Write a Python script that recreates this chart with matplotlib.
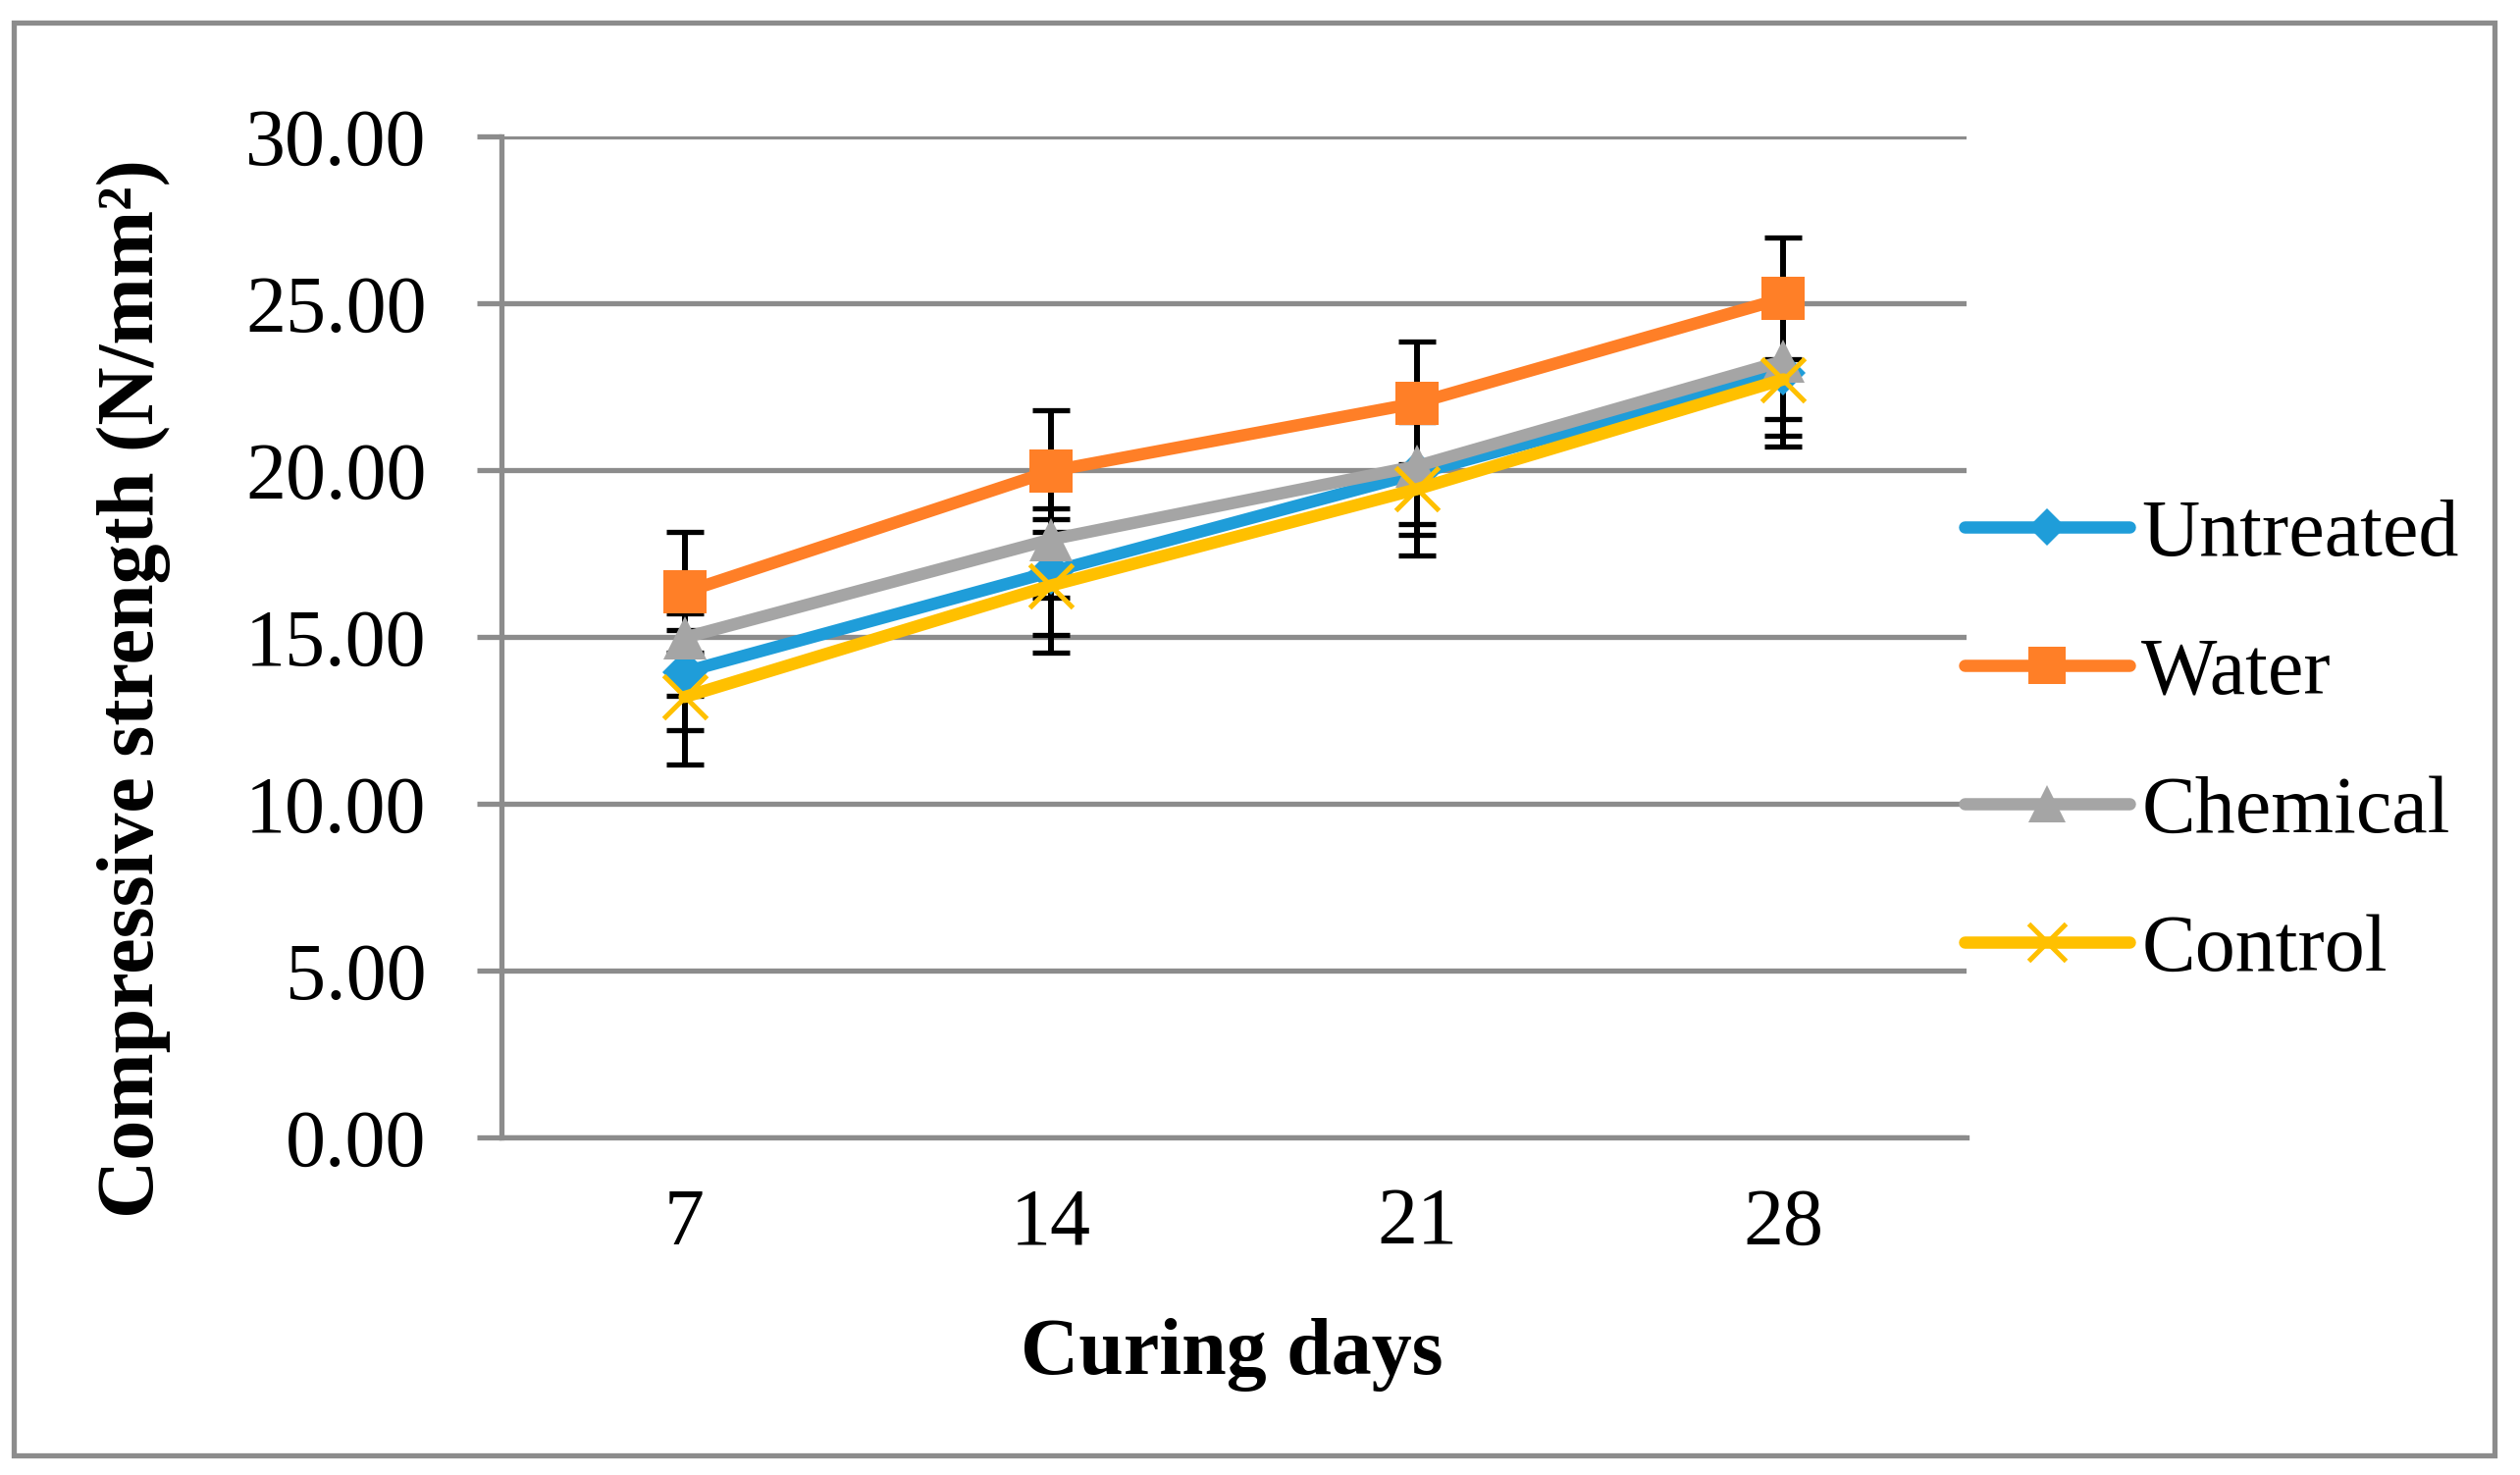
import numpy as np
import matplotlib
matplotlib.use('Agg')
import matplotlib.pyplot as plt
from matplotlib.patches import Rectangle

plt.rcParams['font.family'] = ['Liberation Serif', 'DejaVu Serif']

days = ['7', '14', '21', '28']
untreated = [13.95, 16.95, 19.90, 22.90]
untreated_err = [1.75, 1.90, 1.85, 1.88]
water = [16.34, 19.97, 22.01, 25.15]
water_err = [1.82, 1.81, 1.83, 1.83]
chemical = [14.98, 17.92, 20.12, 23.27]
chemical_err = [1.75, 1.75, 1.75, 1.75]
control = [13.20, 16.54, 19.43, 22.72]
control_err = [2.02, 2.00, 2.00, 2.00]

grid_gray = '#8C8C8C'
W, H = 2568, 1503
fig = plt.figure(figsize=(W / 100, H / 100), dpi=100)
ax = fig.add_axes([511 / W, 1 - 1159 / H, (2004 - 511) / W, (1159 - 139) / H])

x = np.arange(1, len(days) + 1)
series = [
    ('Untreated', untreated, untreated_err, '#1F9DD9', 'D', 23),
    ('Water', water, water_err, '#FF7F27', 's', 32),
    ('Chemical', chemical, chemical_err, '#A5A5A5', '^', 32),
    ('Control', control, control_err, '#FFC000', 'x', 32),
]

# error bars first, underneath everything
for name, vals, err, col, mk, ms in series:
    ax.errorbar(x, vals, yerr=err, fmt='none', ecolor='black', elinewidth=4.3,
                capsize=14, capthick=3.8, zorder=2)

z = 3
for name, vals, err, col, mk, ms in series:
    ax.plot(x, vals, color=col, linewidth=9, marker=mk, markersize=ms,
            markeredgewidth=3.6 if mk == 'x' else 0, markeredgecolor=col,
            solid_capstyle='round', solid_joinstyle='round', label=name, zorder=z)
    z += 1

ax.set_xlim(0.5, 4.5)
ax.set_ylim(0, 30)
ax.set_xticks(x)
ax.set_xticklabels(days)
ax.set_yticks(np.arange(0, 31, 5))
ax.set_yticklabels(['%.2f' % v for v in np.arange(0, 31, 5)])
ax.grid(axis='y', color=grid_gray, linewidth=3.8, zorder=1)
ax.set_axisbelow(True)
for s in ['top', 'right']:
    ax.spines[s].set_visible(False)
for s in ['left', 'bottom']:
    ax.spines[s].set_color(grid_gray)
    ax.spines[s].set_linewidth(3.8)
ax.tick_params(axis='y', direction='out', length=18, width=3.8, color=grid_gray,
               labelsize=59, pad=37)
ax.tick_params(axis='x', length=0, labelsize=59, pad=37)

fig.text(136 / W, 1 - 702 / H, 'Compressive strength (N/mm²)', rotation=90,
         ha='center', va='center', fontsize=59, fontweight='bold')
fig.text(1255 / W, 1 - 1380 / H, 'Curing days', ha='center', va='center',
         fontsize=59, fontweight='bold')

leg = fig.legend(loc='center left', bbox_to_anchor=(2002 / W, 0.496), frameon=False,
                 fontsize=59, handlelength=2.05, handletextpad=0.15,
                 labelspacing=0.8, borderpad=0, borderaxespad=0, markerscale=0.85)

fig.add_artist(Rectangle((14 / W, 1 - 1483 / H), (2542 - 14) / W, (1483 - 23) / H,
                         transform=fig.transFigure, fill=False,
                         edgecolor=grid_gray, linewidth=3.8))

fig.savefig('out.png', dpi=100)
